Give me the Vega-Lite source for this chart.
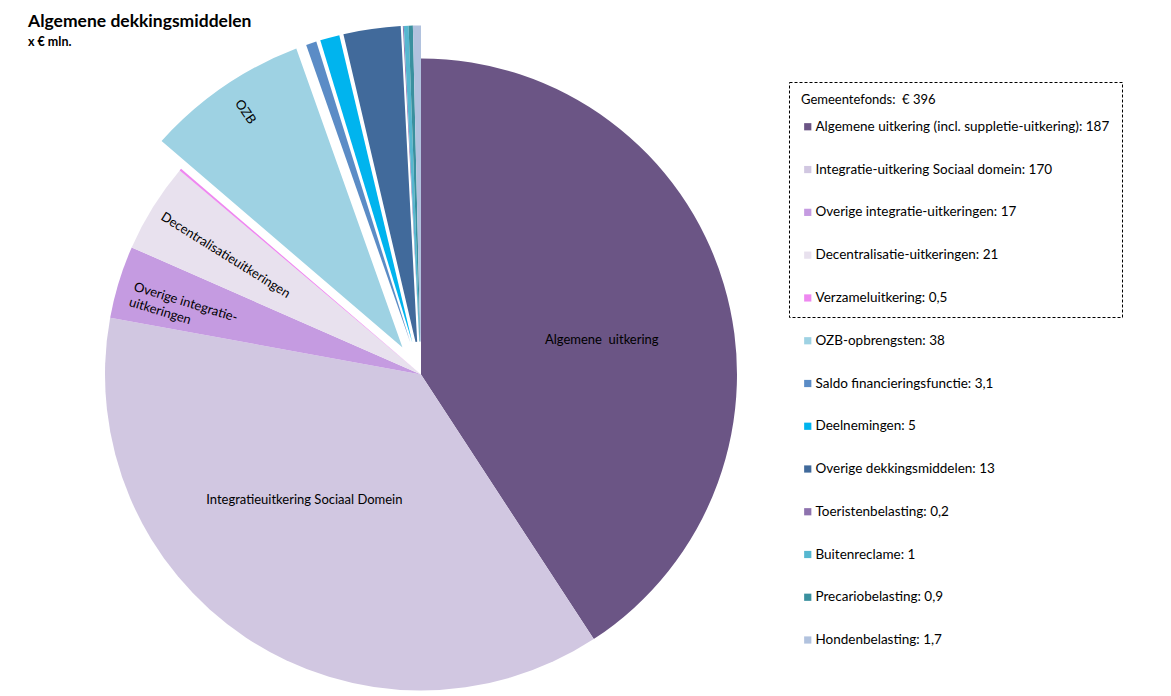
{
  "$schema": "https://vega.github.io/schema/vega-lite/v6.json",
  "width": 842,
  "height": 643,
  "autosize": {"type": "none"},
  "padding": {"top": 53, "left": 0, "right": 329, "bottom": 0},
  "background": "white",
  "config": {"view": {"stroke": null}, "font": "Lato"},
  "title": {
    "text": "Algemene dekkingsmiddelen",
    "subtitle": "x € mln.",
    "anchor": "start",
    "frame": "group",
    "dx": 28,
    "offset": -23,
    "font": "Lato",
    "fontSize": 17.5,
    "fontWeight": "bold",
    "color": "#000000",
    "subtitleFont": "Lato",
    "subtitleFontSize": 12.5,
    "subtitleFontWeight": "bold",
    "subtitleColor": "#000000",
    "subtitlePadding": 6
  },
  "data": {
    "values": [
      {"order": 1, "name": "alg", "group": "Gemeentefonds", "value": 187, "legend": "Algemene uitkering (incl. suppletie-uitkering): 187", "label": "Algemene\u00a0 uitkering"},
      {"order": 2, "name": "int", "group": "Gemeentefonds", "value": 170, "legend": "Integratie-uitkering Sociaal domein: 170", "label": "Integratieuitkering Sociaal Domein"},
      {"order": 3, "name": "ovi", "group": "Gemeentefonds", "value": 17, "legend": "Overige integratie-uitkeringen: 17", "label": ["Overige integratie-", "uitkeringen"]},
      {"order": 4, "name": "dec", "group": "Gemeentefonds", "value": 21, "legend": "Decentralisatie-uitkeringen: 21", "label": "Decentralisatieuitkeringen"},
      {"order": 5, "name": "ver", "group": "Gemeentefonds", "value": 0.5, "legend": "Verzameluitkering: 0,5", "label": ""},
      {"order": 6, "name": "ozb", "group": "Overig", "value": 38, "legend": "OZB-opbrengsten: 38", "label": "OZB"},
      {"order": 7, "name": "sal", "group": "Overig", "value": 3.1, "legend": "Saldo financieringsfunctie: 3,1", "label": ""},
      {"order": 8, "name": "dee", "group": "Overig", "value": 5, "legend": "Deelnemingen: 5", "label": ""},
      {"order": 9, "name": "ovd", "group": "Overig", "value": 13, "legend": "Overige dekkingsmiddelen: 13", "label": ""},
      {"order": 10, "name": "toe", "group": "Overig", "value": 0.2, "legend": "Toeristenbelasting: 0,2", "label": ""},
      {"order": 11, "name": "bui", "group": "Overig", "value": 1, "legend": "Buitenreclame: 1", "label": ""},
      {"order": 12, "name": "pre", "group": "Overig", "value": 0.9, "legend": "Precariobelasting: 0,9", "label": ""},
      {"order": 13, "name": "hon", "group": "Overig", "value": 1.7, "legend": "Hondenbelasting: 1,7", "label": ""}
    ]
  },
  "layer": [
    {
      "transform": [
        {"stack": "value", "groupby": [], "sort": [{"field": "order", "order": "ascending"}], "as": ["v0", "v1"]},
        {"filter": "datum.group === 'Gemeentefonds'"}
      ],
      "mark": {"type": "arc", "radius": 316, "radius2": 0},
      "encoding": {
        "theta": {"field": "v0", "type": "quantitative", "stack": null},
        "theta2": {"field": "v1"},
        "color": {
          "field": "legend",
          "type": "nominal",
          "scale": {
            "domain": ["Algemene uitkering (incl. suppletie-uitkering): 187", "Integratie-uitkering Sociaal domein: 170", "Overige integratie-uitkeringen: 17", "Decentralisatie-uitkeringen: 21", "Verzameluitkering: 0,5"],
            "range": ["#6B5585", "#D1C7E1", "#C59BE1", "#E8E1EE", "#EE88F0"]
          },
          "legend": {
            "orient": "none",
            "legendX": 789,
            "legendY": 29,
            "title": "Gemeentefonds:\u00a0 € 396",
            "titleFont": "Lato",
            "titleFontSize": 13,
            "titleFontWeight": "normal",
            "titleColor": "#000000",
            "titlePadding": 13,
            "labelFont": "Lato",
            "labelFontSize": 13.5,
            "labelColor": "#000000",
            "labelLimit": 400,
            "labelOffset": 1,
            "symbolType": "square",
            "symbolSize": 52,
            "symbolStrokeWidth": 0,
            "symbolOpacity": 1,
            "rowPadding": 27.8,
            "padding": 12,
            "strokeColor": "#000000",
            "encode": {"legend": {"update": {"strokeDash": {"value": [3, 2]}, "strokeWidth": {"value": 1}}}}
          }
        }
      }
    },
    {
      "layer": [
        {
          "transform": [
            {"stack": "value", "groupby": [], "sort": [{"field": "order", "order": "ascending"}], "as": ["v0", "v1"]},
            {"filter": "datum.name === 'ozb'"}
          ],
          "mark": {"type": "arc", "radius": 349, "radius2": 33, "padAngle": 0.048},
          "encoding": {
            "theta": {"field": "v0", "type": "quantitative", "stack": null},
            "theta2": {"field": "v1"},
            "color": {
              "field": "legend",
              "type": "nominal",
              "scale": {
                "domain": ["OZB-opbrengsten: 38", "Saldo financieringsfunctie: 3,1", "Deelnemingen: 5", "Overige dekkingsmiddelen: 13", "Toeristenbelasting: 0,2", "Buitenreclame: 1", "Precariobelasting: 0,9", "Hondenbelasting: 1,7"],
                "range": ["#9ED2E3", "#5B8CC6", "#00B4EE", "#416A9B", "#8E72AE", "#56B7D0", "#3A909E", "#B1C2DE"]
              },
              "legend": {
                "orient": "none",
                "legendX": 789,
                "legendY": 269,
                "title": null,
                "labelFont": "Lato",
                "labelFontSize": 13.5,
                "labelColor": "#000000",
                "labelLimit": 400,
                "labelOffset": 1,
                "symbolType": "square",
                "symbolSize": 52,
                "symbolStrokeWidth": 0,
                "symbolOpacity": 1,
                "rowPadding": 27.75,
                "padding": 12
              }
            }
          }
        },
        {
          "transform": [
            {"stack": "value", "groupby": [], "sort": [{"field": "order", "order": "ascending"}], "as": ["v0", "v1"]},
            {"filter": "datum.name === 'sal' || datum.name === 'dee' || datum.name === 'ovd'"}
          ],
          "mark": {"type": "arc", "radius": 349, "radius2": 33, "padAngle": 0.012},
          "encoding": {
            "theta": {"field": "v0", "type": "quantitative", "stack": null},
            "theta2": {"field": "v1"},
            "color": {
              "field": "legend",
              "type": "nominal",
              "scale": {
                "domain": ["OZB-opbrengsten: 38", "Saldo financieringsfunctie: 3,1", "Deelnemingen: 5", "Overige dekkingsmiddelen: 13", "Toeristenbelasting: 0,2", "Buitenreclame: 1", "Precariobelasting: 0,9", "Hondenbelasting: 1,7"],
                "range": ["#9ED2E3", "#5B8CC6", "#00B4EE", "#416A9B", "#8E72AE", "#56B7D0", "#3A909E", "#B1C2DE"]
              }
            }
          }
        },
        {
          "transform": [
            {"stack": "value", "groupby": [], "sort": [{"field": "order", "order": "ascending"}], "as": ["v0", "v1"]},
            {"filter": "datum.order >= 10"}
          ],
          "mark": {"type": "arc", "radius": 349, "radius2": 33},
          "encoding": {
            "theta": {"field": "v0", "type": "quantitative", "stack": null},
            "theta2": {"field": "v1"},
            "color": {
              "field": "legend",
              "type": "nominal",
              "scale": {
                "domain": ["OZB-opbrengsten: 38", "Saldo financieringsfunctie: 3,1", "Deelnemingen: 5", "Overige dekkingsmiddelen: 13", "Toeristenbelasting: 0,2", "Buitenreclame: 1", "Precariobelasting: 0,9", "Hondenbelasting: 1,7"],
                "range": ["#9ED2E3", "#5B8CC6", "#00B4EE", "#416A9B", "#8E72AE", "#56B7D0", "#3A909E", "#B1C2DE"]
              }
            }
          }
        }
      ]
    },
    {
      "mark": {"type": "text", "radius": 184, "thetaOffset": 0.101, "font": "Lato", "fontSize": 13, "color": "#000000", "align": "center", "baseline": "middle"},
      "encoding": {
        "theta": {"field": "value", "type": "quantitative", "stack": true},
        "order": {"field": "order"},
        "text": {"condition": {"test": "datum.name === 'alg'", "field": "label"}, "value": ""}
      }
    },
    {
      "mark": {"type": "text", "radius": 171, "thetaOffset": 0.164, "font": "Lato", "fontSize": 13, "color": "#000000", "align": "center", "baseline": "middle"},
      "encoding": {
        "theta": {"field": "value", "type": "quantitative", "stack": true},
        "order": {"field": "order"},
        "text": {"condition": {"test": "datum.name === 'int'", "field": "label"}, "value": ""}
      }
    },
    {
      "mark": {"type": "text", "radius": 300, "thetaOffset": 0.0, "angle": 17, "font": "Lato", "fontSize": 13, "color": "#000000", "align": "left", "baseline": "middle", "lineHeight": 16},
      "encoding": {
        "theta": {"field": "value", "type": "quantitative", "stack": true},
        "order": {"field": "order"},
        "text": {"condition": {"test": "datum.name === 'ovi'", "field": "label"}, "value": ""}
      }
    },
    {
      "mark": {"type": "text", "radius": 229, "thetaOffset": -0.01, "angle": 32, "font": "Lato", "fontSize": 13, "color": "#000000", "align": "center", "baseline": "middle"},
      "encoding": {
        "theta": {"field": "value", "type": "quantitative", "stack": true},
        "order": {"field": "order"},
        "text": {"condition": {"test": "datum.name === 'dec'", "field": "label"}, "value": ""}
      }
    },
    {
      "mark": {"type": "text", "radius": 316, "thetaOffset": 0.012, "angle": 56, "font": "Lato", "fontSize": 13, "color": "#000000", "align": "center", "baseline": "middle"},
      "encoding": {
        "theta": {"field": "value", "type": "quantitative", "stack": true},
        "order": {"field": "order"},
        "text": {"condition": {"test": "datum.name === 'ozb'", "field": "label"}, "value": ""}
      }
    }
  ],
  "resolve": {"scale": {"color": "independent"}}
}
